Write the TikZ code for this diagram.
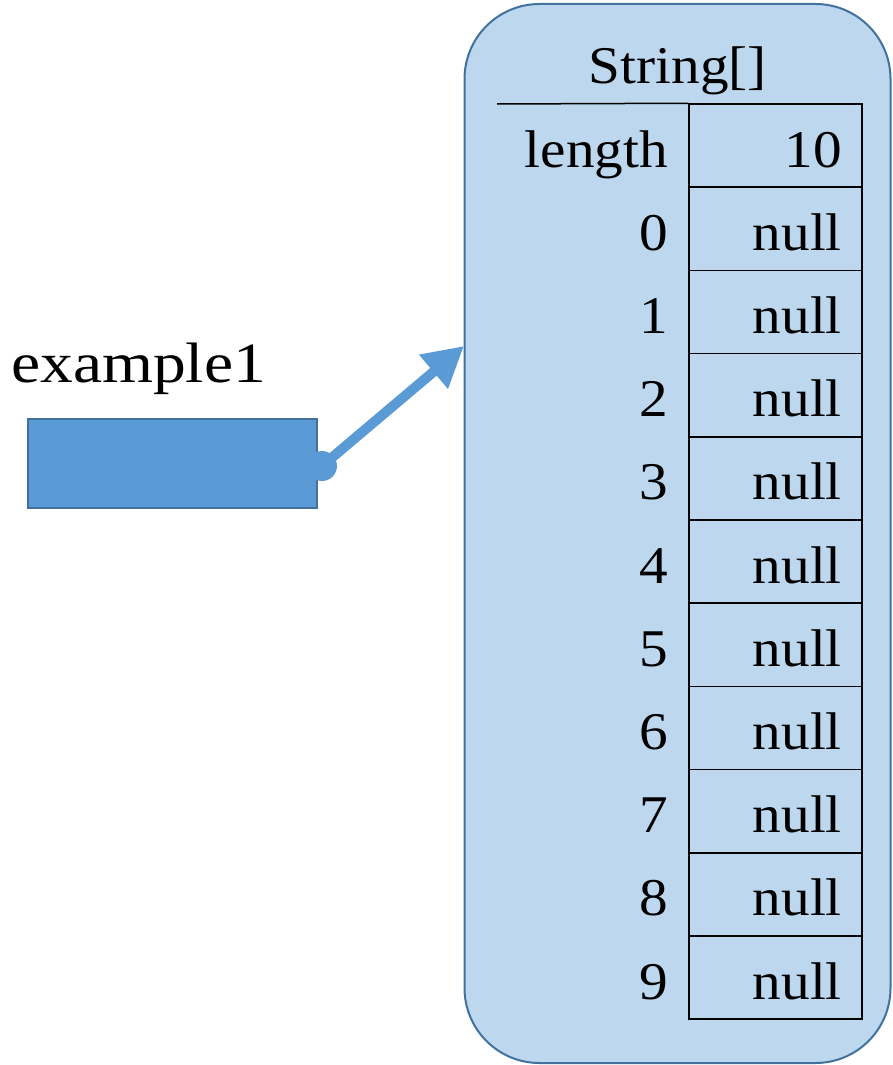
\documentclass[tikz,border=0pt]{standalone}
\usepackage{fontspec}
\setmainfont[FakeStretch=1.08]{Liberation Serif}
\newfontfamily\widefont[FakeStretch=1.15]{Liberation Serif}
\usetikzlibrary{arrows.meta}
\definecolor{objfill}{HTML}{BDD7EE}
\definecolor{objborder}{HTML}{41719C}
\definecolor{varfill}{HTML}{5B9BD5}
\tikzset{
  txt/.style={inner sep=0pt, font=\fontsize{53}{60}\selectfont},
  cellbox/.style={draw=black, line width=1.5pt, minimum width=173pt, minimum height=83.2pt, inner sep=0pt},
  ref/.style={draw=varfill, line width=10pt, -{Triangle[length=40pt, width=42pt]}},
}
\begin{document}
\begin{tikzpicture}[x=1pt, y=-1pt]
\useasboundingbox (0,0) rectangle (892,1065);
% object box
\node[draw=objborder, fill=objfill, line width=2pt, rounded corners=75pt,
      minimum width=426pt, minimum height=1059pt, inner sep=0pt] (obj) at (677.5,533.5) {};
\node[txt, anchor=base] (title) at (678,84) {String[]};
% cells
\foreach \i in {0,...,10} {
  \node[cellbox] (c\i) at (775.5,{145.6+83.2*\i}) {};
}
\draw[line width=1.5pt] (497,104) -- (c0.north west);
\node[txt, anchor=base east] (lenlab) at (668,167) {length};
\node[txt, anchor=base east] (lenval) at (842,167) {10};
\foreach \i in {1,...,10} {
  \pgfmathtruncatemacro{\k}{\i-1}
  \node[txt, anchor=base east] (lab\i) at (668,{167+83.2*\i}) {\k};
  \node[txt, anchor=base east] (val\i) at (842,{167+83.2*\i}) {null};
}
% variable
\node[txt, anchor=base west, font=\widefont\fontsize{57}{64}\selectfont] (name) at (11,382) {example1};
\node[draw=objborder, fill=varfill, line width=2pt, minimum width=289pt, minimum height=89pt, inner sep=0pt] (var) at (172.5,463.5) {};
\node[circle, fill=varfill, minimum size=30pt, inner sep=0pt] (dot) at (322,466) {};
\coordinate (tip) at (464,346);
\draw[ref] (dot.center) -- (tip);
\end{tikzpicture}
\end{document}
